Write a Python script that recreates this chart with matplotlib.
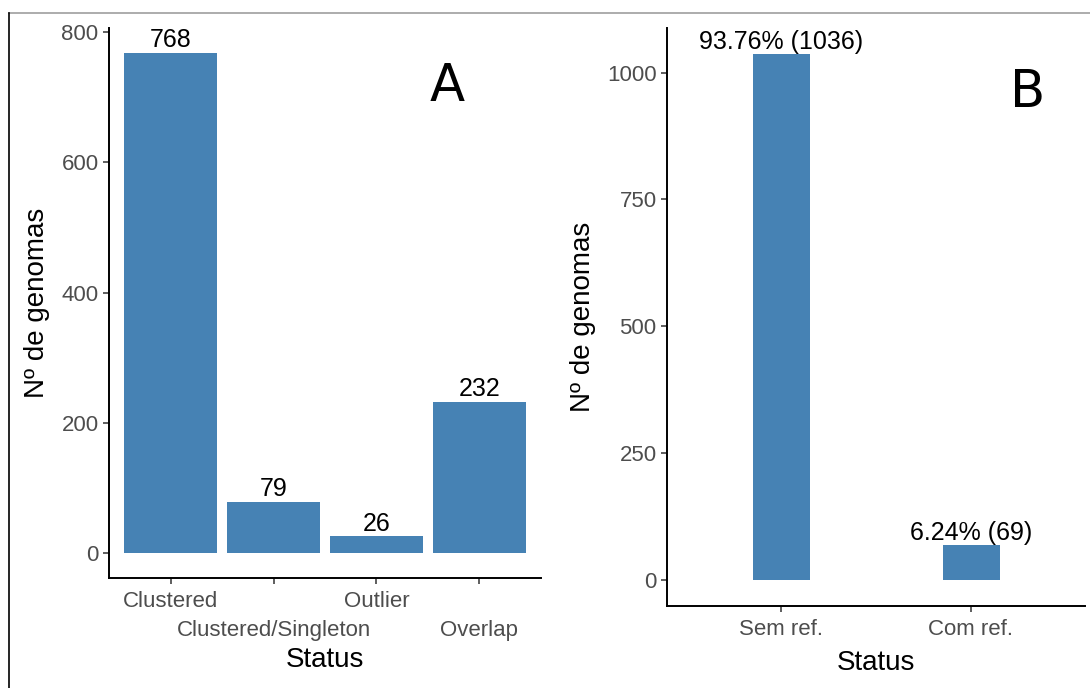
import matplotlib
matplotlib.use("Agg")
import matplotlib.pyplot as plt
from matplotlib.lines import Line2D

plt.rcParams['font.family'] = ['Liberation Sans', 'DejaVu Sans']

# painel A
status_a = ['Clustered', 'Clustered/Singleton', 'Outlier', 'Overlap']
n_a = [768, 79, 26, 232]
ticks_a = [0, 200, 400, 600, 800]

# painel B
status_b = ['Sem ref.', 'Com ref.']
n_b = [1036, 69]
pct_b = [93.76, 6.24]
ticks_b = [0, 250, 500, 750, 1000]

bar_color = '#4682B4'
tick_col = '#4D4D4D'

fig = plt.figure(figsize=(10.9, 6.88), dpi=100)
W, H = 1090, 688


def box(l, t, r, b):
    return [l / W, 1 - b / H, (r - l) / W, (b - t) / H]


def style(ax, ymax):
    for s in ['top', 'right']:
        ax.spines[s].set_visible(False)
    for s in ['left', 'bottom']:
        ax.spines[s].set_linewidth(1.4)
        ax.spines[s].set_color('black')
    ax.tick_params(axis='both', length=4.5, width=1.1, color='#333333',
                   labelcolor=tick_col, labelsize=16, pad=3)
    ax.tick_params(axis='x', pad=5)
    ax.set_ylim(-0.05 * ymax, 1.05 * ymax)
    ax.set_ylabel('Nº de genomas', fontsize=20, labelpad=8)
    ax.set_xlabel('Status', fontsize=20, labelpad=6)


# --- A ---
axA = fig.add_axes(box(109, 28, 541, 578))
xa = range(1, len(status_a) + 1)
axA.bar(xa, n_a, width=0.9, color=bar_color)
for x, v in zip(xa, n_a):
    axA.annotate(str(v), (x, v), xytext=(0, 4), textcoords='offset points',
                 ha='center', va='baseline', fontsize=18)
axA.set_xlim(0.4, len(status_a) + 0.6)
axA.set_xticks(list(xa))
axA.set_xticklabels(status_a)
axA.set_yticks(ticks_a)
style(axA, max(n_a))
# rótulos alternados em duas linhas
for i, t in enumerate(axA.xaxis.get_major_ticks()):
    if i % 2 == 1:
        t.set_pad(26)
axA.xaxis.labelpad = 4
fig.text(447 / W, 1 - 87 / H, 'A', fontsize=37, family='DejaVu Sans',
         ha='center', va='center')

# --- B ---
axB = fig.add_axes(box(667, 28, 1085, 606))
xb = range(1, len(status_b) + 1)
axB.bar(xb, n_b, width=0.3, color=bar_color)
for x, v, p in zip(xb, n_b, pct_b):
    axB.annotate(f'{p:.2f}% ({v})', (x, v), xytext=(0, 3.5),
                 textcoords='offset points', ha='center', va='baseline',
                 fontsize=18)
axB.set_xlim(0.4, len(status_b) + 0.6)
axB.set_xticks(list(xb))
axB.set_xticklabels(status_b)
axB.set_yticks(ticks_b)
style(axB, max(n_b))
axB.xaxis.labelpad = 7
fig.text(1028 / W, 1 - 93 / H, 'B', fontsize=37, family='DejaVu Sans',
         ha='center', va='center')

# moldura
fig.add_artist(Line2D([9 / W, 1], [1 - 13 / H, 1 - 13 / H], color='#9E9E9E',
                      lw=1.2, transform=fig.transFigure))
fig.add_artist(Line2D([9 / W, 9 / W], [0, 1 - 13 / H], color='black',
                      lw=1.2, transform=fig.transFigure))

fig.savefig('out.png', dpi=100)
